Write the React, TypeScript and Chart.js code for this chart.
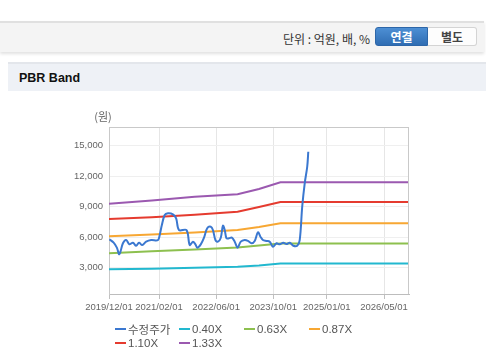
import React, { useEffect, useRef } from "react";
import { Chart, registerables } from "chart.js";

Chart.register(...registerables);

// x axis: months elapsed since 2019/12/01
const xTickMonths = [0, 14, 30, 46, 61, 77];
const xTickLabels = ["2019/12/01", "2021/02/01", "2022/06/01", "2023/10/01", "2025/01/01", "2026/05/01"];
const yTickValues = [3000, 6000, 9000, 12000, 15000];
const yTitle = "(원)";

const seriesNames = ["수정주가", "0.40X", "0.63X", "0.87X", "1.10X", "1.33X"];
const seriesColors = ["#3b78d0", "#22b8cf", "#8dc04f", "#f7a733", "#e53b2f", "#9b59b0"];

const priceMonths = [
  0.1, 1.3, 2.2, 2.9, 3.9, 4.8, 5.7, 6.7, 7.6, 8.4, 9.3, 10.4, 11.8, 13.7, 14.2, 14.8, 15.6, 16.5,
  17.9, 18.8, 19.6, 21.7, 22.6, 23.5, 24.2, 24.7, 25.7, 26.6, 27.5, 28.5, 29.1, 29.8, 30.5, 31.3,
  31.9, 32.4, 32.9, 33.6, 34.4, 35.2, 36.0, 36.9, 38.0, 38.9, 39.9, 40.8, 41.7, 42.4, 43.1, 44.1,
  45.0, 45.9, 46.9, 47.8, 48.8, 49.7, 50.6, 51.6, 52.7, 53.4, 54.1, 54.8, 55.5, 55.8,
];
const priceValues = [
  5800, 5460, 4970, 4320, 5400, 5720, 5300, 5460, 5160, 5460, 5230, 5560, 5720, 5720, 6220, 7200, 8180, 8350,
  8250, 7860, 6700, 6700, 5230, 5560, 5300, 4970, 5300, 5950, 6880, 7030, 6710, 5720, 5560, 5950,
  7130, 6710, 5890, 5890, 5950, 5560, 4970, 5560, 5720, 5630, 5400, 5630, 6480, 6050, 5720, 5630,
  5560, 5070, 5400, 5300, 5460, 5330, 5460, 5160, 5160, 5720, 9000, 11300, 12930, 14410,
];

const bandMonths = [0, 12, 24, 36, 42, 48, 84];
const band040 = [2840, 2900, 2990, 3100, 3220, 3420, 3420];
const band063 = [4420, 4610, 4800, 4990, 5180, 5380, 5380];
const band087 = [6090, 6270, 6470, 6720, 7000, 7370, 7370];
const band110 = [7790, 7960, 8200, 8500, 8980, 9460, 9460];
const band133 = [9280, 9620, 9980, 10230, 10740, 11400, 11400];

const FONT = "'Liberation Sans', Arial, 'Noto Sans CJK KR', sans-serif";
const KFONT = "'Noto Sans CJK KR', 'Liberation Sans', sans-serif";

const toPoints = (xs: number[], ys: number[]) => xs.map((x, i) => ({ x, y: ys[i] }));

const framePlugin = {
  id: "frame",
  afterDatasetsDraw(chart: any) {
    const { ctx, chartArea } = chart;
    const { left, top, right, bottom } = chartArea;
    ctx.save();
    ctx.strokeStyle = "#c9c9c9";
    ctx.lineWidth = 1;
    ctx.beginPath();
    ctx.moveTo(left, top + 0.5);
    ctx.lineTo(right, top + 0.5);
    ctx.moveTo(right - 0.5, top);
    ctx.lineTo(right - 0.5, bottom);
    ctx.stroke();
    ctx.fillStyle = "#666";
    ctx.font = `11px ${KFONT}`;
    ctx.textAlign = "center";
    ctx.textBaseline = "middle";
    ctx.fillText(yTitle, left - 6, top - 10);
    ctx.restore();
  },
};

export default function App() {
  const canvasRef = useRef<HTMLCanvasElement | null>(null);

  useEffect(() => {
    if (!canvasRef.current) return;
    const series = [
      priceValues,
      band040,
      band063,
      band087,
      band110,
      band133,
    ];
    const datasets = series.map((vals, i) => ({
      label: seriesNames[i],
      data: i === 0 ? toPoints(priceMonths, vals) : toPoints(bandMonths, vals),
      borderColor: seriesColors[i],
      backgroundColor: seriesColors[i],
      borderWidth: 2,
      pointRadius: 0,
      tension: i === 0 ? 0.35 : 0,
      fill: false,
    }));

    const chart = new Chart(canvasRef.current, {
      type: "line",
      data: { datasets },
      options: {
        responsive: false,
        animation: false,
        devicePixelRatio: 1,
        layout: { padding: { top: 127, right: 77, left: 0, bottom: 0 } },
        plugins: { legend: { display: false }, tooltip: { enabled: false } },
        scales: {
          x: {
            type: "linear",
            min: 0,
            max: 84,
            afterBuildTicks: (scale: any) => {
              scale.ticks = xTickMonths.map((v) => ({ value: v }));
            },
            afterFit: (scale: any) => {
              scale.height = 67;
            },
            ticks: {
              autoSkip: false,
              maxRotation: 0,
              padding: 3,
              color: "#666",
              font: { size: 9.5, family: FONT },
              callback: (v: any) => {
                const idx = xTickMonths.indexOf(Number(v));
                return idx >= 0 ? xTickLabels[idx] : "";
              },
            },
            grid: { color: "#e6e6e6", tickColor: "#c0c0c0", tickLength: 5, drawTicks: true },
            border: { color: "#bdbdbd" },
          },
          y: {
            type: "linear",
            min: 413,
            max: 16840,
            afterBuildTicks: (scale: any) => {
              scale.ticks = yTickValues.map((v) => ({ value: v }));
            },
            afterFit: (scale: any) => {
              scale.width = 109;
            },
            ticks: {
              padding: 6,
              color: "#666",
              font: { size: 9.5, family: FONT },
              callback: (v: any) => Number(v).toLocaleString("en-US"),
            },
            grid: { color: "#efefef", drawTicks: false },
            border: { color: "#c9c9c9" },
          },
        },
      },
      plugins: [framePlugin],
    });
    return () => chart.destroy();
  }, []);

  const legendCols = [115, 179, 244, 309];
  const legendRows = [329, 343];

  return (
    <div style={{ position: "absolute", left: 0, top: 0, width: 486, height: 361, background: "#fff", overflow: "hidden", fontFamily: FONT }}>
      {/* top unit bar */}
      <div
        style={{
          position: "absolute",
          left: 0,
          top: 21,
          width: 484,
          height: 29,
          background: "#f4f4f4",
          borderTop: "2px solid #e0e0e0",
          boxShadow: "0 2px 3px rgba(0,0,0,0.12)",
        }}
      />
      <div
        style={{
          position: "absolute",
          left: 240,
          width: 130,
          top: 30,
          height: 17,
          lineHeight: "17px",
          textAlign: "right",
          fontSize: 12,
          color: "#333",
          fontFamily: KFONT,
          whiteSpace: "nowrap",
        }}
      >
        단위 : 억원, 배, %
      </div>
      <div
        style={{
          position: "absolute",
          left: 375,
          top: 27,
          width: 53,
          height: 19,
          boxSizing: "border-box",
          background: "linear-gradient(#4d8fd4, #2f6db3)",
          border: "1px solid #2d66a8",
          borderRadius: "3px 0 0 3px",
          color: "#fff",
          fontWeight: "bold",
          fontSize: 12,
          fontFamily: KFONT,
          textAlign: "center",
          lineHeight: "17px",
        }}
      >
        연결
      </div>
      <div
        style={{
          position: "absolute",
          left: 428,
          top: 27,
          width: 49,
          height: 19,
          boxSizing: "border-box",
          background: "#fdfdfd",
          border: "1px solid #d4d4d4",
          borderLeft: "none",
          borderRadius: "0 3px 3px 0",
          color: "#444",
          fontWeight: "bold",
          fontSize: 12,
          fontFamily: KFONT,
          textAlign: "center",
          lineHeight: "17px",
        }}
      >
        별도
      </div>

      {/* section header */}
      <div
        style={{
          position: "absolute",
          left: 8,
          top: 62,
          width: 478,
          height: 27,
          background: "#eef1f6",
          borderTop: "2px solid #e3e6eb",
        }}
      />
      <div
        style={{
          position: "absolute",
          left: 19,
          top: 69,
          height: 18,
          lineHeight: "18px",
          fontSize: 12.5,
          fontWeight: "bold",
          color: "#111",
          fontFamily: FONT,
        }}
      >
        PBR Band
      </div>

      <canvas
        ref={canvasRef}
        width={486}
        height={361}
        style={{ position: "absolute", left: 0, top: 0, width: 486, height: 361 }}
      />

      {/* legend */}
      {seriesNames.map((name, i) => {
        const col = legendCols[i % 4];
        const row = legendRows[Math.floor(i / 4)];
        return (
          <div
            key={name}
            style={{
              position: "absolute",
              left: col,
              top: row - 8,
              height: 16,
              display: "flex",
              alignItems: "center",
              whiteSpace: "nowrap",
            }}
          >
            <span style={{ display: "inline-block", width: 11, height: 2, background: seriesColors[i], marginRight: 2 }} />
            <span style={{ fontSize: 11.5, color: "#555", fontFamily: i === 0 ? KFONT : FONT, lineHeight: "16px" }}>{name}</span>
          </div>
        );
      })}
    </div>
  );
}
